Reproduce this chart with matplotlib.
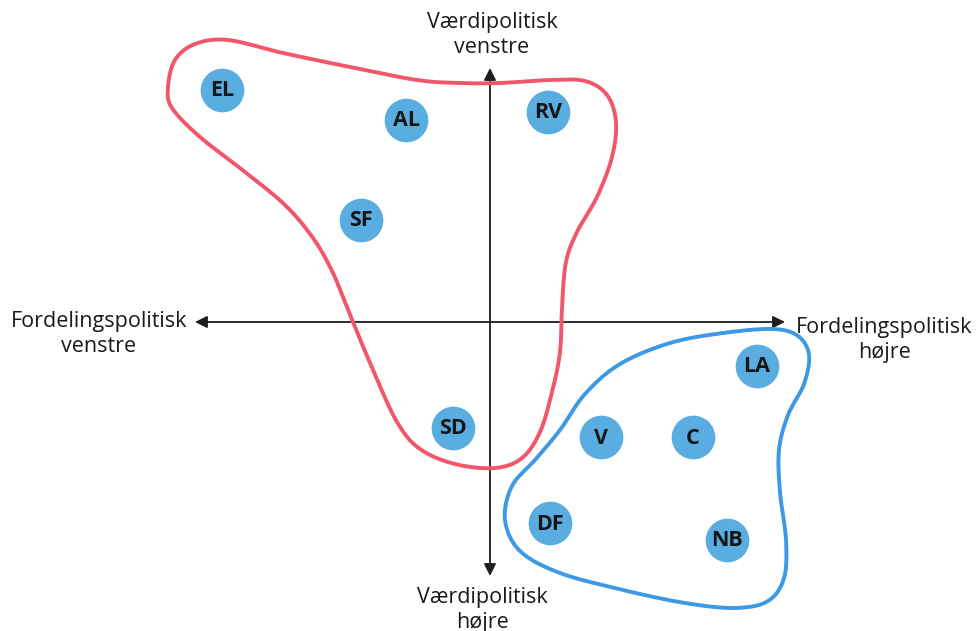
import numpy as np
import matplotlib
matplotlib.use('Agg')
import matplotlib.pyplot as plt

# party positions (origin = where the two axes cross, units ~ pixels)
parties = ['EL', 'AL', 'RV', 'SF', 'SD', 'V', 'C', 'LA', 'DF', 'NB']
party_x = [-268, -84, 58, -129, -37, 111, 203, 267, 60, 237]
party_y = [232, 202, 210, 102, -106, -115, -115, -44, -201, -218]

# hand-drawn outlines around the two blocs
red_x = [-322, -315, -295, -262, -207, -140, -73, -30, 10, 60, 95, 117, 126,
         122, 107, 87, 76, 72, 70, 62, 50, 32, 5, -35, -70, -93, -117, -137,
         -157, -177, -205, -245, -290, -318]
red_y = [235, 262, 278, 282, 269, 255, 242, 239, 239, 242, 241, 227, 200,
         165, 125, 90, 60, 15, -30, -70, -110, -136, -146, -142, -127,
         -100, -48, 0, 49, 84, 117, 150, 185, 214]
blue_x = [233, 283, 308, 319, 314, 298, 289, 290, 296, 294, 278, 245, 195, 133,
          70, 30, 15, 22, 45, 70, 95, 130, 180]
blue_y = [-11, -7, -14, -33, -62, -93, -128, -170, -218, -256, -279, -286, -281,
          -268, -251, -229, -198, -164, -138, -108, -72, -42, -21]

ax_labels = {
    'left': 'Fordelingspolitisk\nvenstre',
    'right': 'Fordelingspolitisk\nhøjre',
    'top': 'Værdipolitisk\nvenstre',
    'bottom': 'Værdipolitisk\nhøjre',
}


def closed_spline(xs, ys, n=30):
    # Catmull-Rom through the points, closed loop
    p = np.column_stack([xs, ys]).astype(float)
    m = len(p)
    out = []
    t = np.linspace(0, 1, n, endpoint=False)[:, None]
    for i in range(m):
        p0, p1, p2, p3 = p[i - 1], p[i], p[(i + 1) % m], p[(i + 2) % m]
        seg = 0.5 * ((2 * p1) + (-p0 + p2) * t + (2 * p0 - 5 * p1 + 4 * p2 - p3) * t ** 2
                     + (-p0 + 3 * p1 - 3 * p2 + p3) * t ** 3)
        out.append(seg)
    out = np.vstack(out)
    out = np.vstack([out, out[:1]])
    return out[:, 0], out[:, 1]


plt.rcParams['font.family'] = ['Open Sans', 'DejaVu Sans']

fig = plt.figure(figsize=(9.77, 6.31), dpi=100)
ax = fig.add_axes([0, 0, 1, 1])
ax.set_xlim(-490, 487)
ax.set_ylim(-309, 322)
ax.axis('off')

# axes with arrows
arrow = dict(arrowstyle='<|-|>', color='#1e1e1e', lw=1.3,
             mutation_scale=18, shrinkA=0, shrinkB=0)
ax.annotate('', xy=(295, 0), xytext=(-295, 0), arrowprops=arrow)
ax.annotate('', xy=(0, 254), xytext=(0, -254), arrowprops=arrow)

# outlines
rx, ry = closed_spline(red_x, red_y)
ax.plot(rx, ry, color='#f2566b', lw=2.8, solid_capstyle='round', zorder=3)
bx, by = closed_spline(blue_x, blue_y)
ax.plot(bx, by, color='#3d98e6', lw=2.8, solid_capstyle='round', zorder=3)

# party bubbles
ax.scatter(party_x, party_y, s=990, color='#5aade0', zorder=4, linewidths=0)
for name, x, y in zip(parties, party_x, party_y):
    ax.text(x, y - 1, name, ha='center', va='center', fontsize=15.5,
            fontweight='bold', color='#151515', zorder=5)

tkw = dict(ha='center', va='center', fontsize=15.5, color='#1a1a1a', linespacing=1.22)
ax.text(-391, -12, ax_labels['left'], **tkw)
ax.text(394, -18, ax_labels['right'], **tkw)
ax.text(2, 287, ax_labels['top'], **tkw)
ax.text(-8, -288, ax_labels['bottom'], **tkw)

fig.savefig('out.png', dpi=100)
